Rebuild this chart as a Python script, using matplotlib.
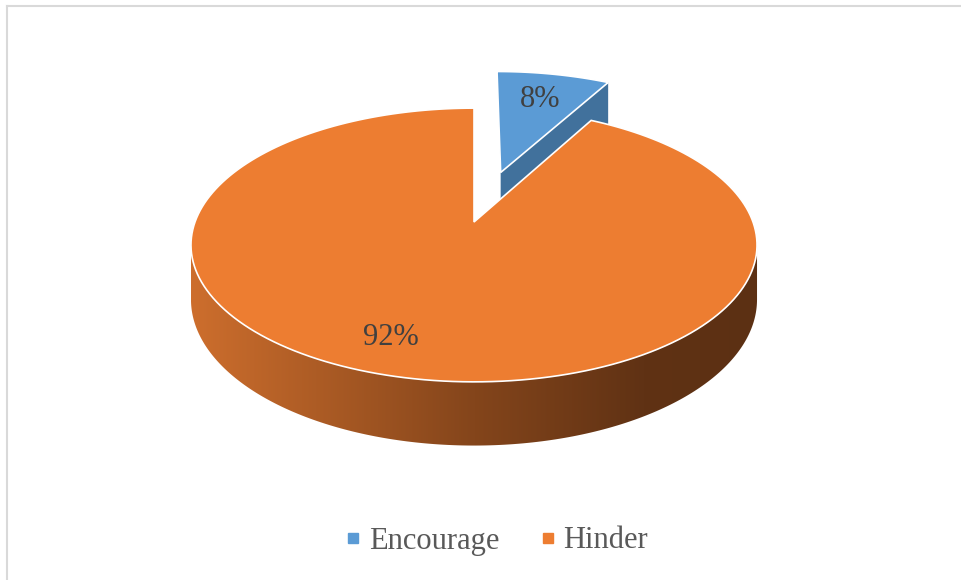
import numpy as np
import matplotlib.pyplot as plt
from matplotlib.patches import Polygon
from matplotlib.colors import LinearSegmentedColormap
from matplotlib.lines import Line2D

# data
labels = ['Encourage', 'Hinder']
values = [8, 92]
explode = [0.41, 0.0]
top_colors = ['#5B9BD5', '#ED7D31']
side_colors = ['#41719C', '#B8632A']
# label place inside each slice: (radius, fraction of the slice angle)
label_at = [(0.72, 0.5), (0.8, 0.514)]

# pie placement (pixels) and a bit of perspective
CX, CY = 474, 222
A, B, K = 279, 133, 0.168
DEPTH = 53


def proj(u, v, h=0.0):
    d = 1 + K * v
    return CX + A * u / d, CY - B * v / d + DEPTH * h / d


def arc(a0, a1, ox, oy, h=0.0, n=200):
    t = np.radians(np.linspace(a0, a1, n))
    return [proj(ox + np.sin(a), oy + np.cos(a), h) for a in t]


fig = plt.figure(figsize=(9.61, 5.80), dpi=100)
ax = fig.add_axes([0, 0, 1, 1])
ax.set_xlim(0, 961)
ax.set_ylim(580, 0)
ax.axis('off')

# silhouette angles of the cylinder side
sil = np.degrees(np.arccos(-K))
sil_l, sil_r = sil, 360 - sil

side_cmap = LinearSegmentedColormap.from_list(
    'side', [(0, '#CD6E2D'), (0.5, '#84451B'), (0.8, '#603214'), (1, '#5C3013')])

total = sum(values)
start = 0.0
slices = []
for i, val in enumerate(values):
    span = val / total * 360
    slices.append((start, start + span))
    start += span

# back slices first
order = sorted(range(len(values)),
               key=lambda i: -np.cos(np.radians(sum(slices[i]) / 2)) if explode[i] == 0 else -1)
for i in order:
    a0, a1 = slices[i]
    mid = np.radians((a0 + a1) / 2)
    ox, oy = explode[i] * np.sin(mid), explode[i] * np.cos(mid)

    # radial face at the end of the slice
    if 0 < a1 % 360 < 180:
        t = np.radians(a1)
        pts = [proj(ox, oy), proj(ox + np.sin(t), oy + np.cos(t)),
               proj(ox + np.sin(t), oy + np.cos(t), 1), proj(ox, oy, 1)]
        ax.add_patch(Polygon(pts, closed=True, facecolor=side_colors[i],
                             edgecolor='none', zorder=2 + i))
    # radial face at the start
    if 180 < a0 % 360 < 360:
        t = np.radians(a0)
        pts = [proj(ox, oy), proj(ox + np.sin(t), oy + np.cos(t)),
               proj(ox + np.sin(t), oy + np.cos(t), 1), proj(ox, oy, 1)]
        ax.add_patch(Polygon(pts, closed=True, facecolor=side_colors[i],
                             edgecolor='none', zorder=2 + i))

    # outer side
    s0, s1 = max(a0, sil_l), min(a1, sil_r)
    if s1 > s0:
        pts = arc(s0, s1, ox, oy) + arc(s0, s1, ox, oy, 1)[::-1]
        side = Polygon(pts, closed=True, facecolor='none', edgecolor='none',
                       zorder=2 + i)
        ax.add_patch(side)
        xs = [p[0] for p in pts]
        ys = [p[1] for p in pts]
        grad = np.linspace(0, 1, 256).reshape(1, -1)
        im = ax.imshow(grad, cmap=side_cmap, aspect='auto',
                       extent=[min(xs), max(xs), max(ys), min(ys)],
                       zorder=2 + i)
        im.set_clip_path(side)

    # top
    pts = [proj(ox, oy)] + arc(a0, a1, ox, oy)
    ax.add_patch(Polygon(pts, closed=True, facecolor=top_colors[i],
                         edgecolor='white', linewidth=1.2, zorder=2.5 + i))

    # percentage label
    r, f = label_at[i]
    t = np.radians(a0 + f * (a1 - a0))
    lx, ly = proj(ox + r * np.sin(t), oy + r * np.cos(t))
    ax.text(lx, ly, f'{values[i]}%', ha='center', va='center',
            family='Liberation Serif', fontsize=22, color='#404040', zorder=10)

ax.set_xlim(0, 961)
ax.set_ylim(580, 0)

# frame of the chart area (only left and top show)
ax.plot([7, 7], [6, 580], color='#D9D9D9', lw=1.5, zorder=1)
ax.plot([7, 961], [6, 6], color='#D9D9D9', lw=1.5, zorder=1)

handles = [Line2D([], [], marker='s', linestyle='none', markersize=6.5,
                  markerfacecolor=c, markeredgecolor=c) for c in top_colors]
ax.legend(handles, labels, loc='center', bbox_to_anchor=(496, 541),
          bbox_transform=ax.transData, ncol=2, frameon=False,
          prop={'family': 'Liberation Serif', 'size': 22},
          labelcolor='#595959', handlelength=0.6, handletextpad=0.2,
          columnspacing=1.3)

fig.savefig('out.png', dpi=100)
